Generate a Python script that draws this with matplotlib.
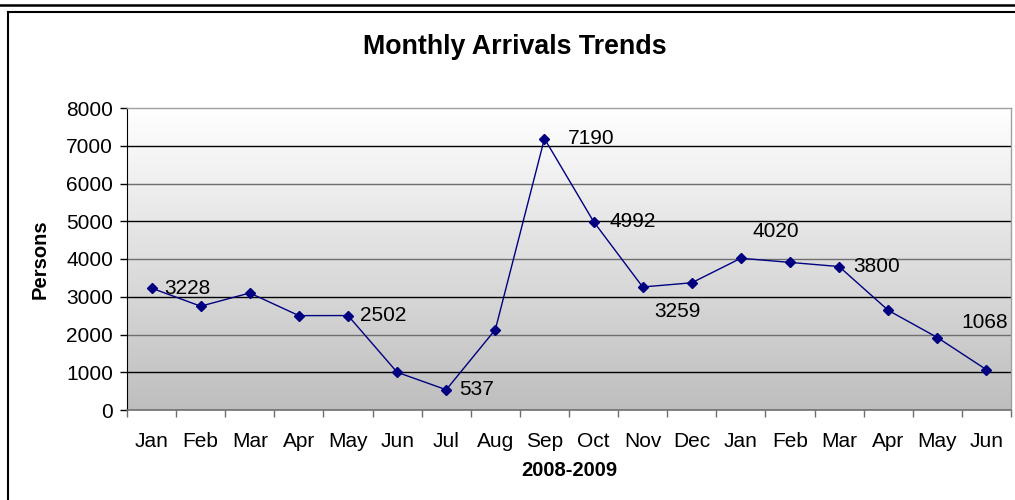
import numpy as np
import matplotlib
matplotlib.use("Agg")
import matplotlib.pyplot as plt
from matplotlib.lines import Line2D

plt.rcParams['font.family'] = ['Liberation Sans', 'DejaVu Sans']

months = ["Jan", "Feb", "Mar", "Apr", "May", "Jun", "Jul", "Aug", "Sep",
          "Oct", "Nov", "Dec", "Jan", "Feb", "Mar", "Apr", "May", "Jun"]
arrivals = [3228, 2750, 3100, 2500, 2502, 1000, 537, 2130, 7190,
            4992, 3259, 3370, 4020, 3910, 3800, 2640, 1920, 1068]

# which points get a value label, and pixel offset of the label
labelled = {0: (13, 0, 'left'), 4: (12, 0, 'left'), 6: (13, 0, 'left'),
            8: (23, 0, 'left'), 9: (16, 0, 'left'), 10: (35, -25, 'center'),
            12: (35, 27, 'center'), 14: (14, 0, 'left'), 17: (-2, 47, 'center')}

W, H = 1015, 500
fig = plt.figure(figsize=(W / 100, H / 100), dpi=100)
ax = fig.add_axes([127 / W, (H - 410) / H, (1011 - 127) / W, (410 - 108) / H])

# gradient background
grad = np.linspace(0, 1, 256).reshape(-1, 1)
cmap = matplotlib.colors.LinearSegmentedColormap.from_list("bg", ["#bebebe", "#ffffff"])
ax.imshow(grad, extent=[0, 1, 0, 1], transform=ax.transAxes, origin="lower",
          aspect="auto", cmap=cmap, zorder=0)

x = np.arange(len(months))
ax.set_xlim(-0.5, len(months) - 0.5)
ax.set_ylim(0, 8000)

for v in range(1000, 8000, 1000):
    col = "#000000" if (v // 1000) % 2 == 1 else "#6e6e6e"
    ax.axhline(v, color=col, lw=1.0, zorder=1)

ax.plot(x, arrivals, color="#000080", lw=1.0, marker="D", markersize=5,
        markerfacecolor="#000080", markeredgecolor="#000080", zorder=3)

for i, (dx, dy, ha) in labelled.items():
    ax.annotate(str(arrivals[i]), (x[i], arrivals[i]), xytext=(dx * 0.72, dy * 0.72),
                textcoords="offset points", ha=ha, va="center", fontsize=15,
                color="black", zorder=4)

ax.set_yticks(range(0, 8001, 1000))
ax.set_xticks(x)
ax.set_xticklabels(months)
ax.set_xticks(np.arange(-0.5, len(months), 1), minor=True)
ax.tick_params(axis="x", which="major", length=0, pad=16, labelsize=15)
ax.tick_params(axis="x", which="minor", length=5, width=1, color="#6e6e6e", direction="out")
ax.tick_params(axis="y", length=5, width=1, pad=5, labelsize=15, direction="out")

ax.spines["left"].set_color("black")
ax.spines["bottom"].set_color("#6e6e6e")
ax.spines["bottom"].set_linewidth(1.2)
for s in ("top", "right"):
    ax.spines[s].set_color("#a0a0a0")
    ax.spines[s].set_linewidth(1.0)

ax.set_xlabel("2008-2009", fontsize=14.5, fontweight="bold", labelpad=7)
ax.set_ylabel("Persons", fontsize=14.5, fontweight="bold", labelpad=12)
fig.text(515 / W, 1 - 47 / H, "Monthly Arrivals Trends", ha="center", va="center",
         fontsize=19.3, fontweight="bold")

# outer frame lines
fig.add_artist(Line2D([0, 1], [1 - 5 / H, 1 - 5 / H], color="black", lw=1.8))
fig.add_artist(Line2D([8 / W, 1], [1 - 11.5 / H, 1 - 11.5 / H], color="black", lw=1.5))
fig.add_artist(Line2D([8 / W, 8 / W], [0, 1 - 11.5 / H], color="black", lw=1.5))

fig.savefig("out.png", dpi=100)
